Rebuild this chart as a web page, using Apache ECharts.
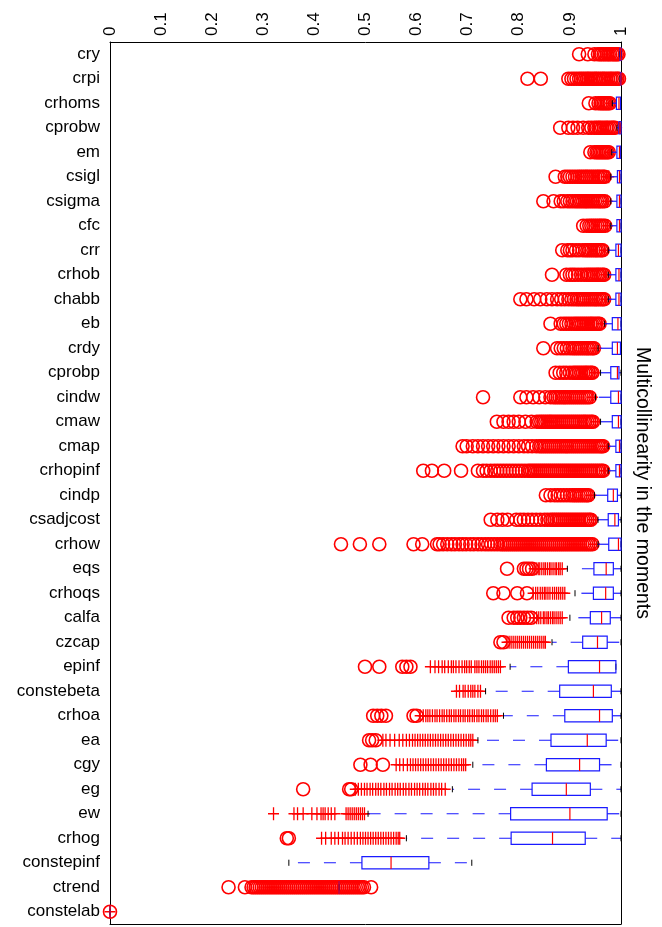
<!DOCTYPE html>
<html>
<head>
<meta charset="utf-8">
<script src="https://cdn.jsdelivr.net/npm/echarts@6/dist/echarts.min.js"></script>
<style>
html, body { margin: 0; padding: 0; background: #fff; }
#chart { width: 662px; height: 927px; }
</style>
</head>
<body>
<div id="chart"></div>
<script>
const categories = ['cry', 'crpi', 'crhoms', 'cprobw', 'em', 'csigl', 'csigma', 'cfc', 'crr', 'crhob',
  'chabb', 'eb', 'crdy', 'cprobp', 'cindw', 'cmaw', 'cmap', 'crhopinf', 'cindp', 'csadjcost',
  'crhow', 'eqs', 'crhoqs', 'calfa', 'czcap', 'epinf', 'constebeta', 'crhoa', 'ea', 'cgy',
  'eg', 'ew', 'crhog', 'constepinf', 'ctrend', 'constelab'];

// [lower whisker, q1, median, q3, upper whisker]
const boxStats = [
  [0.997, 0.998, 0.999, 1, 1], [0.998, 0.999, 1, 1, 1], [0.983, 0.991, 0.996, 0.999, 1],
  [0.992, 0.996, 0.998, 1, 1], [0.982, 0.992, 0.997, 0.999, 1], [0.98, 0.993, 0.997, 1, 1],
  [0.98, 0.992, 0.997, 1, 1], [0.98, 0.992, 0.997, 1, 1], [0.975, 0.99, 0.995, 1, 1],
  [0.975, 0.99, 0.996, 1, 1], [0.975, 0.99, 0.996, 1, 1], [0.968, 0.983, 0.994, 1, 1],
  [0.955, 0.983, 0.993, 0.999, 1], [0.96, 0.98, 0.993, 0.996, 1], [0.95, 0.98, 0.995, 1, 1],
  [0.96, 0.983, 0.995, 1, 1], [0.975, 0.99, 0.997, 1, 1], [0.975, 0.99, 0.997, 1, 1],
  [0.948, 0.974, 0.985, 0.993, 1], [0.955, 0.975, 0.988, 0.995, 1], [0.955, 0.976, 0.995, 1, 1],
  [0.895, 0.947, 0.971, 0.985, 1], [0.91, 0.946, 0.97, 0.985, 1], [0.9, 0.94, 0.962, 0.979, 1],
  [0.865, 0.925, 0.954, 0.973, 1], [0.783, 0.897, 0.958, 0.99, 0.99], [0.735, 0.88, 0.946, 0.981, 1],
  [0.77, 0.89, 0.958, 0.983, 1], [0.72, 0.863, 0.934, 0.971, 1], [0.71, 0.854, 0.919, 0.958, 1],
  [0.67, 0.826, 0.893, 0.94, 1], [0.505, 0.784, 0.9, 0.973, 1], [0.58, 0.785, 0.866, 0.93, 1],
  [0.35, 0.493, 0.55, 0.624, 0.708], [0.448, 0.448, 0.448, 0.448, 0.448], [0, 0, 0, 0, 0]
];

// outliers drawn as circles, one list per category
const circleOutliers = [
  [0.918, 0.935, 0.948, 0.955, 0.959, 0.962, 0.966, 0.969, 0.973, 0.976, 0.979, 0.983, 0.986, 0.989, 0.992, 0.995],
  [0.817, 0.843, 0.897, 0.903, 0.908, 0.913, 0.918, 0.922, 0.926, 0.93, 0.934, 0.937, 0.941, 0.945, 0.949, 0.952, 0.956, 0.96, 0.964, 0.967, 0.971, 0.975, 0.979, 0.982, 0.986, 0.99, 0.993, 0.996],
  [0.937, 0.95, 0.956, 0.96, 0.963, 0.966, 0.969, 0.972, 0.975, 0.978],
  [0.881, 0.897, 0.906, 0.915, 0.926, 0.936, 0.942, 0.948, 0.952, 0.956, 0.959, 0.963, 0.967, 0.971, 0.974, 0.978, 0.982, 0.985, 0.988],
  [0.94, 0.948, 0.952, 0.955, 0.958, 0.961, 0.964, 0.967, 0.97, 0.973, 0.976],
  [0.872, 0.89, 0.895, 0.9, 0.905, 0.91, 0.915, 0.919, 0.923, 0.927, 0.931, 0.934, 0.938, 0.942, 0.946, 0.95, 0.954, 0.957, 0.961, 0.965, 0.968],
  [0.848, 0.868, 0.882, 0.888, 0.895, 0.9, 0.905, 0.91, 0.914, 0.918, 0.922, 0.926, 0.93, 0.933, 0.937, 0.941, 0.945, 0.949, 0.953, 0.957, 0.96, 0.964, 0.968],
  [0.926, 0.933, 0.938, 0.942, 0.946, 0.95, 0.954, 0.958, 0.961, 0.965, 0.969],
  [0.885, 0.895, 0.9, 0.905, 0.912, 0.918, 0.925, 0.93, 0.934, 0.938, 0.942, 0.946, 0.95, 0.953, 0.957, 0.961, 0.964],
  [0.865, 0.893, 0.9, 0.905, 0.91, 0.916, 0.922, 0.928, 0.933, 0.937, 0.941, 0.945, 0.949, 0.953, 0.956, 0.96, 0.964, 0.967],
  [0.803, 0.815, 0.83, 0.842, 0.855, 0.865, 0.875, 0.883, 0.89, 0.897, 0.903, 0.908, 0.913, 0.917, 0.921, 0.925, 0.929, 0.933, 0.937, 0.941, 0.945, 0.949, 0.952, 0.956, 0.96, 0.964, 0.967],
  [0.862, 0.882, 0.888, 0.893, 0.898, 0.903, 0.908, 0.912, 0.916, 0.92, 0.924, 0.928, 0.932, 0.936, 0.94, 0.943, 0.947, 0.951, 0.955, 0.958],
  [0.848, 0.875, 0.882, 0.888, 0.894, 0.9, 0.905, 0.909, 0.913, 0.917, 0.921, 0.925, 0.929, 0.933, 0.936, 0.94, 0.944, 0.947],
  [0.872, 0.88, 0.887, 0.893, 0.9, 0.906, 0.91, 0.914, 0.918, 0.922, 0.926, 0.93, 0.933, 0.937, 0.941, 0.944],
  [0.73, 0.803, 0.815, 0.828, 0.84, 0.852, 0.862, 0.868, 0.872, 0.876, 0.88, 0.884, 0.888, 0.891, 0.895, 0.899, 0.903, 0.907, 0.911, 0.915, 0.919, 0.923, 0.927, 0.931, 0.935, 0.939],
  [0.757, 0.77, 0.78, 0.79, 0.8, 0.813, 0.825, 0.835, 0.84, 0.844, 0.848, 0.852, 0.856, 0.86, 0.863, 0.867, 0.871, 0.875, 0.879, 0.883, 0.887, 0.891, 0.895, 0.899, 0.903, 0.907, 0.911, 0.915, 0.919, 0.923, 0.927, 0.93, 0.934, 0.938, 0.942, 0.945],
  [0.69, 0.698, 0.71, 0.72, 0.73, 0.74, 0.75, 0.76, 0.77, 0.78, 0.79, 0.8, 0.81, 0.818, 0.826, 0.834, 0.84, 0.844, 0.848, 0.852, 0.856, 0.86, 0.864, 0.868, 0.872, 0.876, 0.88, 0.884, 0.888, 0.892, 0.895, 0.899, 0.903, 0.907, 0.911, 0.915, 0.919, 0.923, 0.927, 0.931, 0.935, 0.939, 0.943, 0.947, 0.951, 0.955, 0.959, 0.962, 0.965],
  [0.613, 0.63, 0.654, 0.687, 0.72, 0.73, 0.737, 0.745, 0.752, 0.758, 0.764, 0.77, 0.776, 0.782, 0.788, 0.794, 0.8, 0.806, 0.812, 0.818, 0.822, 0.826, 0.83, 0.834, 0.838, 0.842, 0.846, 0.85, 0.854, 0.858, 0.862, 0.866, 0.87, 0.874, 0.878, 0.882, 0.886, 0.89, 0.894, 0.898, 0.902, 0.906, 0.91, 0.914, 0.918, 0.922, 0.926, 0.93, 0.934, 0.938, 0.942, 0.946, 0.95, 0.954, 0.958, 0.962, 0.965],
  [0.853, 0.862, 0.87, 0.876, 0.882, 0.888, 0.894, 0.9, 0.905, 0.909, 0.913, 0.917, 0.921, 0.925, 0.929, 0.933, 0.936],
  [0.745, 0.758, 0.768, 0.778, 0.795, 0.803, 0.81, 0.818, 0.826, 0.834, 0.842, 0.85, 0.856, 0.862, 0.866, 0.87, 0.874, 0.878, 0.882, 0.886, 0.89, 0.894, 0.898, 0.902, 0.906, 0.91, 0.914, 0.918, 0.922, 0.926, 0.93, 0.934, 0.938, 0.941],
  [0.452, 0.489, 0.527, 0.594, 0.611, 0.64, 0.645, 0.652, 0.66, 0.668, 0.675, 0.683, 0.69, 0.697, 0.705, 0.712, 0.72, 0.727, 0.734, 0.74, 0.746, 0.752, 0.758, 0.764, 0.768, 0.772, 0.776, 0.78, 0.784, 0.788, 0.792, 0.796, 0.8, 0.804, 0.808, 0.812, 0.816, 0.82, 0.824, 0.828, 0.832, 0.836, 0.84, 0.844, 0.848, 0.852, 0.856, 0.86, 0.864, 0.868, 0.872, 0.876, 0.88, 0.884, 0.888, 0.892, 0.896, 0.9, 0.904, 0.908, 0.912, 0.916, 0.92, 0.924, 0.928, 0.932, 0.936, 0.94, 0.944],
  [0.777, 0.81, 0.815, 0.82, 0.826],
  [0.75, 0.77, 0.797, 0.816],
  [0.78, 0.79, 0.797, 0.803, 0.81, 0.817, 0.824],
  [0.764, 0.77],
  [0.499, 0.527, 0.572, 0.58, 0.588],
  [],
  [0.515, 0.523, 0.531, 0.54, 0.594, 0.6],
  [0.507, 0.513, 0.52],
  [0.49, 0.51, 0.534],
  [0.378, 0.468, 0.472],
  [],
  [0.346, 0.35],
  [],
  [0.232, 0.264, 0.277, 0.281, 0.285, 0.289, 0.293, 0.297, 0.301, 0.305, 0.309, 0.313, 0.317, 0.321, 0.325, 0.329, 0.333, 0.337, 0.341, 0.345, 0.349, 0.353, 0.357, 0.361, 0.365, 0.369, 0.373, 0.377, 0.381, 0.385, 0.389, 0.393, 0.397, 0.401, 0.405, 0.409, 0.413, 0.417, 0.421, 0.425, 0.429, 0.433, 0.437, 0.441, 0.445, 0.449, 0.453, 0.457, 0.461, 0.465, 0.469, 0.473, 0.477, 0.481, 0.485, 0.489, 0.493, 0.497, 0.511],
  [0]
];

// outliers drawn as '+', one list per category
const plusOutliers = [
  [], [], [0.98], [], [0.978], [0.972, 0.976], [0.973], [0.974], [0.968], [0.97],
  [0.97], [0.962], [0.951], [0.948], [0.944], [0.95], [0.968], [0.968], [0.941], [0.946],
  [0.948],
  [0.83, 0.834, 0.838, 0.841, 0.845, 0.849, 0.852, 0.856, 0.86, 0.863, 0.867, 0.871, 0.874, 0.878, 0.881, 0.885],
  [0.828, 0.833, 0.837, 0.842, 0.846, 0.85, 0.853, 0.857, 0.861, 0.866, 0.87, 0.874, 0.878, 0.882, 0.886, 0.89],
  [0.83, 0.835, 0.839, 0.843, 0.848, 0.851, 0.855, 0.858, 0.862, 0.866, 0.869, 0.873, 0.877, 0.881, 0.885],
  [0.777, 0.781, 0.785, 0.789, 0.793, 0.797, 0.801, 0.805, 0.809, 0.813, 0.817, 0.821, 0.825, 0.829, 0.833, 0.837, 0.841, 0.845, 0.849, 0.852],
  [0.627, 0.636, 0.643, 0.65, 0.655, 0.662, 0.668, 0.672, 0.677, 0.683, 0.689, 0.694, 0.698, 0.703, 0.707, 0.714, 0.718, 0.722, 0.727, 0.731, 0.735, 0.739, 0.744, 0.748, 0.752, 0.756, 0.76, 0.764],
  [0.678, 0.684, 0.691, 0.695, 0.701, 0.706, 0.71, 0.714, 0.72, 0.725],
  [0.607, 0.613, 0.618, 0.622, 0.626, 0.631, 0.636, 0.64, 0.645, 0.65, 0.654, 0.659, 0.664, 0.668, 0.673, 0.677, 0.682, 0.686, 0.691, 0.695, 0.7, 0.704, 0.709, 0.713, 0.718, 0.722, 0.727, 0.731, 0.736, 0.74, 0.745, 0.75, 0.754, 0.758],
  [0.534, 0.54, 0.548, 0.557, 0.566, 0.573, 0.58, 0.586, 0.592, 0.597, 0.602, 0.607, 0.612, 0.617, 0.622, 0.627, 0.632, 0.637, 0.642, 0.647, 0.652, 0.657, 0.662, 0.667, 0.672, 0.677, 0.682, 0.687, 0.692, 0.697, 0.702, 0.706, 0.71],
  [0.56, 0.567, 0.574, 0.582, 0.588, 0.593, 0.598, 0.603, 0.608, 0.613, 0.618, 0.623, 0.628, 0.633, 0.638, 0.643, 0.648, 0.653, 0.658, 0.663, 0.668, 0.673, 0.678, 0.683, 0.688, 0.692, 0.696],
  [0.48, 0.486, 0.492, 0.498, 0.503, 0.509, 0.514, 0.52, 0.525, 0.53, 0.536, 0.541, 0.547, 0.552, 0.558, 0.563, 0.568, 0.574, 0.579, 0.585, 0.59, 0.596, 0.601, 0.606, 0.612, 0.617, 0.622, 0.628, 0.633, 0.638, 0.644, 0.649, 0.656],
  [0.32, 0.36, 0.367, 0.378, 0.395, 0.405, 0.413, 0.417, 0.421, 0.427, 0.433, 0.44, 0.462, 0.466, 0.47, 0.474, 0.478, 0.482, 0.486, 0.49, 0.494, 0.498],
  [0.414, 0.422, 0.433, 0.44, 0.447, 0.455, 0.46, 0.466, 0.472, 0.478, 0.484, 0.49, 0.495, 0.5, 0.505, 0.51, 0.515, 0.52, 0.525, 0.53, 0.535, 0.54, 0.545, 0.55, 0.555, 0.56, 0.564, 0.567],
  [],
  [],
  [0]
];

const axisName = 'Multicollinearity in the moments';
const font = 'Liberation Sans, Arial, Helvetica, sans-serif';

let circleData = [];
let plusData = [];
categories.forEach((c, i) => {
  circleOutliers[i].forEach(v => circleData.push([v, i]));
  plusOutliers[i].forEach(v => plusData.push([v, i]));
});
const boxData = boxStats.map((s, i) => [i].concat(s));

function renderBox(params, api) {
  const i = api.value(0);
  const lo = api.value(1), q1 = api.value(2), med = api.value(3), q3 = api.value(4), hi = api.value(5);
  const y = api.coord([0, i])[1];
  const h = api.size([0, 1])[1] * 0.5;
  const x = v => api.coord([v, i])[0];
  const blue = { stroke: '#1a1aff', lineWidth: 1.2, fill: null };
  const dash = { stroke: '#1a1aff', lineWidth: 1.2, lineDash: [12, 14] };
  const cap = { stroke: '#000', lineWidth: 1 };
  const children = [];
  if (q1 > lo) children.push({ type: 'line', shape: { x1: x(q1), y1: y, x2: x(lo), y2: y }, style: dash });
  if (hi > q3) children.push({ type: 'line', shape: { x1: x(q3), y1: y, x2: x(hi), y2: y }, style: dash });
  children.push({ type: 'line', shape: { x1: x(lo), y1: y - h / 4, x2: x(lo), y2: y + h / 4 }, style: cap });
  children.push({ type: 'line', shape: { x1: x(hi), y1: y - h / 4, x2: x(hi), y2: y + h / 4 }, style: cap });
  children.push({ type: 'rect', shape: { x: x(q1), y: y - h / 2, width: x(q3) - x(q1), height: h }, style: blue });
  children.push({ type: 'line', shape: { x1: x(med), y1: y - h / 2, x2: x(med), y2: y + h / 2 }, style: { stroke: '#ff0000', lineWidth: 1.2 } });
  return { type: 'group', children: children };
}

const chart = echarts.init(document.getElementById('chart'));
const axisLine = { show: true, onZero: false, lineStyle: { color: '#000', width: 1 } };
chart.setOption({
  animation: false,
  backgroundColor: '#fff',
  grid: { left: 110, right: 41, top: 42, bottom: 3 },
  xAxis: [
    {
      type: 'value', position: 'top', min: 0, max: 1, interval: 0.1,
      axisLine: axisLine,
      axisTick: { inside: true, length: 7, lineStyle: { color: '#000' } },
      axisLabel: { rotate: -90, fontSize: 17, color: '#000', fontFamily: font, margin: 6 },
      splitLine: { show: false }
    },
    {
      type: 'value', position: 'bottom', min: 0, max: 1, interval: 0.1,
      axisLine: axisLine,
      axisTick: { inside: true, length: 7, lineStyle: { color: '#000' } },
      axisLabel: { show: false },
      splitLine: { show: false }
    }
  ],
  yAxis: [
    {
      type: 'category', data: categories, inverse: true, position: 'left',
      axisLine: axisLine,
      axisTick: { inside: true, alignWithLabel: true, interval: 0, length: 8, lineStyle: { color: '#000' } },
      axisLabel: { interval: 0, fontSize: 17, color: '#000', fontFamily: font, margin: 10 },
      splitLine: { show: false }
    },
    {
      type: 'category', data: categories, inverse: true, position: 'right',
      axisLine: axisLine,
      axisTick: { inside: true, alignWithLabel: true, interval: 0, length: 8, lineStyle: { color: '#000' } },
      axisLabel: { show: false },
      name: axisName, nameLocation: 'middle', nameRotate: -90, nameGap: 11,
      nameTextStyle: { fontSize: 19.5, color: '#000', fontFamily: font },
      splitLine: { show: false }
    }
  ],
  series: [
    {
      type: 'scatter', data: circleData, symbol: 'circle', symbolSize: 13,
      clip: false, silent: true, z: 2,
      itemStyle: { color: 'rgba(0,0,0,0)', borderColor: '#ff0000', borderWidth: 1.6, opacity: 1 }
    },
    {
      type: 'scatter', data: plusData, symbol: 'path://M0,6L12,6M6,0L6,12', symbolSize: [11, 13],
      clip: false, silent: true, z: 2,
      itemStyle: { color: 'rgba(0,0,0,0)', borderColor: '#ff0000', borderWidth: 1.4, opacity: 1 }
    },
    {
      type: 'custom', data: boxData, renderItem: renderBox,
      encode: { x: [1, 2, 3, 4, 5], y: 0 },
      clip: false, silent: true, z: 3
    }
  ]
});
</script>
</body>
</html>
